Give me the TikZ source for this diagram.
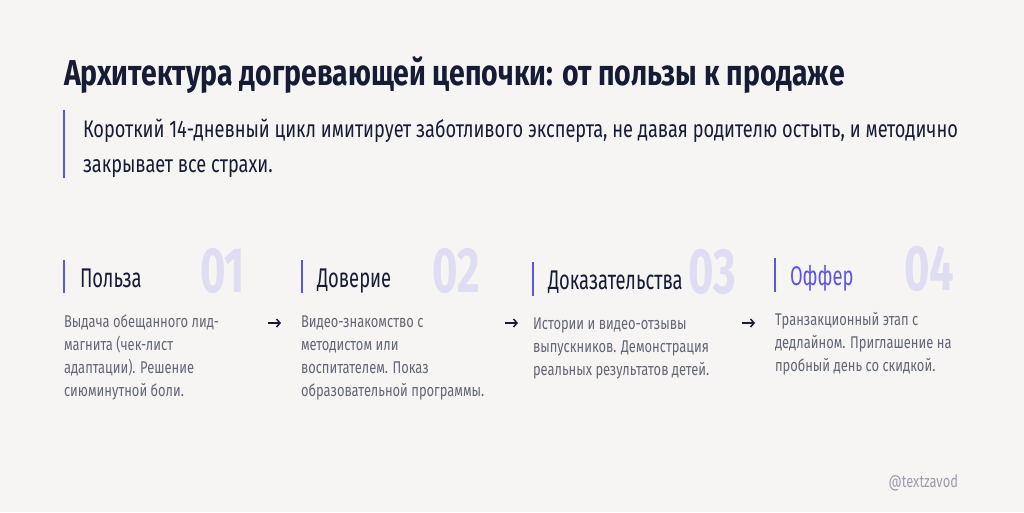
\documentclass[tikz,border=0pt]{standalone}
\usepackage{fontspec}
\setmainfont{Fira Sans}
\newfontfamily\bigfont{Fira Sans}[FakeStretch=0.79]
\newfontfamily\leadfont{Fira Sans}[FakeStretch=0.758]
\newfontfamily\stepfont{Fira Sans}[FakeStretch=0.68]
\newfontfamily\numfont{Fira Sans}[FakeStretch=0.68]
\newfontfamily\descfont{Fira Sans}[FakeStretch=0.76]
\usetikzlibrary{arrows.meta}
\usetikzlibrary{positioning}

\definecolor{bgcol}{HTML}{F6F5F3}
\definecolor{navy}{HTML}{151C34}
\definecolor{indigo}{HTML}{5B55E3}
\definecolor{lavender}{HTML}{DEDDF2}
\definecolor{greytext}{HTML}{636677}
\definecolor{softgrey}{HTML}{9C9CB0}

\begin{document}
\begin{tikzpicture}[x=1pt,y=-1pt,
	every node/.style={inner sep=0pt,outer sep=0pt},
	bar/.style={draw=indigo,line width=2.6pt},
	heading/.style={anchor=base west,text=navy,font=\bigfont\bfseries\fontsize{36}{40}\selectfont},
	lead/.style={anchor=base west,text=navy,align=left,font=\leadfont\fontsize{24}{35}\selectfont},
	steptitle/.style={anchor=base west,text=navy,font=\stepfont\fontsize{27}{30}\selectfont},
	stepnum/.style={anchor=base west,text=lavender,font=\numfont\bfseries\fontsize{64}{64}\selectfont},
	stepdesc/.style={anchor=base west,text=greytext,align=left,font=\descfont\fontsize{17}{23}\selectfont},
	flow/.style={draw=navy,line width=1.5pt,-{Straight Barb[length=3.5pt,width=8pt]}}]
	
	% background and frame
	\fill[bgcol] (0,0) rectangle (1024,512);
	\useasboundingbox (0,0) rectangle (1024,512);
	
	% heading and lead (multi-line nodes sit on their last baseline)
	\node[heading] (title) at (64,85) {Архитектура догревающей цепочки: от пользы к продаже};
	\draw[bar] (64,110) -- (64,178);
	\node[lead] (intro) at (83,172) {Короткий 14-дневный цикл имитирует заботливого эксперта, не давая родителю остыть, и методично\\закрывает все страхи.};
	
	% step numbers
	\node[stepnum] (n1) at (200,292) {01};
	\node[stepnum] (n2) at (432,292) {02};
	\node[stepnum] (n3) at (688,293) {03};
	\node[stepnum] (n4) at (904,290) {04};
	
	% step titles
	\draw[bar] (64,260) -- (64,293);
	\draw[bar] (302,260) -- (302,293);
	\draw[bar] (533,262) -- (533,296);
	\draw[bar] (775,258) -- (775,292);
	\node[steptitle] (s1) at (80,287) {Польза};
	\node[steptitle] (s2) at (317,287) {Доверие};
	\node[steptitle] (s3) at (548,289) {Доказательства};
	\node[steptitle,text=indigo] (s4) at (790,285) {Оффер};
	
	% step texts
	\node[stepdesc] (d1) at (64,396) {Выдача обещанного лид-\\магнита (чек-лист\\адаптации). Решение\\сиюминутной боли.};
	\node[stepdesc] (d2) at (301,396) {Видео-знакомство с\\методистом или\\воспитателем. Показ\\образовательной программы.};
	\node[stepdesc] (d3) at (533,375) {Истории и видео-отзывы\\выпускников. Демонстрация\\реальных результатов детей.};
	\node[stepdesc] (d4) at (775,371) {Транзакционный этап с\\дедлайном. Приглашение на\\пробный день со скидкой.};
	
	% arrows between steps
	\coordinate (a1) at (268,323);
	\coordinate (b1) at (281,323);
	\coordinate (a2) at (505,323);
	\coordinate (b2) at (518,323);
	\coordinate (a3) at (742,323);
	\coordinate (b3) at (755,323);
	\foreach \i in {1,2,3}
		\draw[flow] (a\i) -- (b\i);
	
	\node[anchor=base east,text=softgrey,font=\descfont\fontsize{17}{20}\selectfont] (tag) at (958,487) {@textzavod};
\end{tikzpicture}
\end{document}
